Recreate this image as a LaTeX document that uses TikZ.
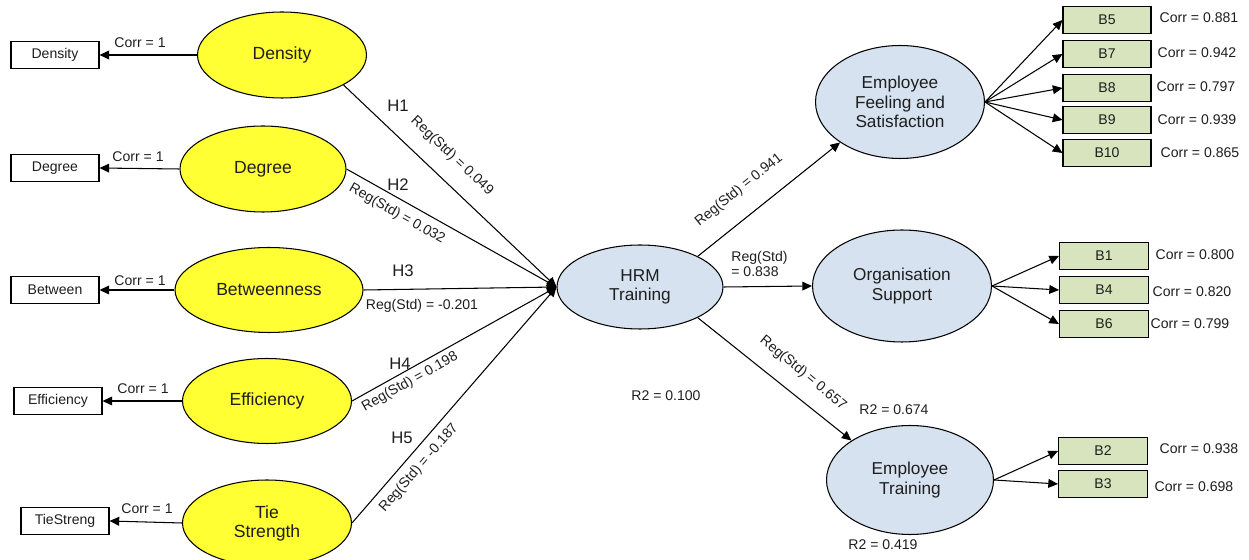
\documentclass[tikz,border=0pt]{standalone}
\usepackage{fontspec}
\setmainfont{Liberation Sans}
\usetikzlibrary{shapes.geometric,arrows.meta}
\definecolor{yel}{RGB}{255,255,51}
\definecolor{lblue}{RGB}{214,226,239}
\definecolor{lgreen}{RGB}{215,228,189}
\definecolor{txt}{RGB}{30,30,30}
\begin{document}
\begin{tikzpicture}[x=0.02cm,y=-0.02cm,
  lat/.style={ellipse,draw,line width=0.6pt,inner sep=0pt,align=center,text=txt,font=\fontsize{10}{10.8}\selectfont},
  yell/.style={lat,fill=yel},
  blu/.style={lat,fill=lblue,font=\fontsize{9.8}{11.2}\selectfont},
  obs/.style={draw,line width=0.6pt,minimum width=1.76cm,minimum height=0.53cm,inner sep=0pt,text=txt,font=\fontsize{8}{9.6}\selectfont},
  gobs/.style={obs,fill=lgreen,minimum width=1.78cm},
  lbl/.style={font=\fontsize{8}{9}\selectfont,inner sep=0pt,text=txt},
  hl/.style={font=\fontsize{9.5}{11}\selectfont,inner sep=0pt,text=txt},
  arr/.style={line width=0.6pt,-{Triangle[length=5.5pt,width=5pt]}},
]
\useasboundingbox (0,0) rectangle (1249,560);

% left latent variables
\node[yell,minimum width=3.38cm,minimum height=1.72cm] (dens) at (282,55) {Density};
\node[yell,minimum width=3.32cm,minimum height=1.72cm] (deg) at (263,169) {Degree};
\node[yell,minimum width=3.76cm,minimum height=1.70cm] (betw) at (269,290) {Betweenness};
\node[yell,minimum width=3.38cm,minimum height=1.70cm] (eff) at (267,401) {Efficiency};
\node[yell,minimum width=3.38cm,minimum height=1.72cm] (tie) at (267,523) {Tie\\Strength};

% left indicators
\node[obs] (bdens) at (55,55) {Density};
\node[obs] (bdeg) at (55,168) {Degree};
\node[obs] (bbetw) at (55,290) {Between};
\node[obs] (beff) at (58,401) {Efficiency};
\node[obs] (btie) at (65,521) {TieStreng};

\draw[arr] (dens.west) -- (bdens.east);
\draw[arr] (deg.west) -- (bdeg.east);
\draw[arr] (betw.west) -- (bbetw.east);
\draw[arr] (eff.west) -- (beff.east);
\draw[arr] (tie.west) -- (btie.east);

\node[lbl] at (140,43) {Corr = 1};
\node[lbl] at (138,157) {Corr = 1};
\node[lbl] at (140,281) {Corr = 1};
\node[lbl] at (143,389) {Corr = 1};
\node[lbl] at (147,509) {Corr = 1};

% central
\node[blu,minimum width=3.32cm,minimum height=1.68cm] (hrm) at (640,287) {HRM\\Training};

\draw[arr] (dens.-26) -- (hrm.west);
\draw[arr] (deg.east) -- (hrm.west);
\draw[arr] (betw.east) -- (hrm.west);
\draw[arr] (eff.east) -- (hrm.west);
\draw[arr] (tie.east) -- (hrm.west);

\node[hl] at (398,106) {H1};
\node[hl] at (398,185) {H2};
\node[hl] at (403,271) {H3};
\node[hl] at (400,364) {H4};
\node[hl] at (402,438) {H5};

\node[lbl,rotate=-43.3] at (452,156) {Reg(Std) = 0.049};
\node[lbl,rotate=-29.5] at (397,214) {Reg(Std) = 0.032};
\node[lbl] at (422,306) {Reg(Std) = -0.201};
\node[lbl,rotate=29.3] at (410,382) {Reg(Std) = 0.198};
\node[lbl,rotate=48.9] at (419,468) {Reg(Std) = -0.187};

\node[lbl] at (666,396) {R2 = 0.100};

% right latent variables
\node[blu,minimum width=3.38cm,minimum height=2.26cm] (efs) at (900,102) {Employee\\Feeling and\\Satisfaction};
\node[blu,minimum width=3.58cm,minimum height=2.24cm] (os) at (902,286) {Organisation\\Support};
\node[blu,minimum width=3.34cm,minimum height=2.18cm] (et) at (910,480) {Employee\\Training};

\draw[arr] (hrm.28) -- (efs.-146);
\draw[arr] (hrm.east) -- (os.west);
\draw[arr] (hrm.-28) -- (et.146);

\node[lbl,rotate=38.7] at (739,190) {Reg(Std) = 0.941};
\node[lbl,align=left,anchor=west,font=\fontsize{8}{9}\selectfont] at (731,264) {Reg(Std)\\= 0.838};
\node[lbl,rotate=-39.6] at (803,373) {Reg(Std) = 0.657};

\node[lbl] at (894,410) {R2 = 0.674};
\node[lbl] at (883,545) {R2 = 0.419};

% right indicators
\node[gobs,minimum width=1.76cm] (b5) at (1107,20) {B5};
\node[gobs,minimum width=1.76cm] (b7) at (1107,54) {B7};
\node[gobs,minimum width=1.76cm] (b8) at (1107,88) {B8};
\node[gobs,minimum width=1.76cm] (b9) at (1107,120) {B9};
\node[gobs,minimum width=1.76cm] (b10) at (1107,153) {B10};
\node[gobs] (b1) at (1104,256) {B1};
\node[gobs] (b4) at (1104,290) {B4};
\node[gobs] (b6) at (1104,324) {B6};
\node[gobs] (b2) at (1103,451) {B2};
\node[gobs] (b3) at (1103,484) {B3};

\foreach \b in {b5,b7,b8,b9,b10} \draw[arr] (efs.east) -- (\b.west);
\foreach \b in {b1,b4,b6} \draw[arr] (os.east) -- (\b.west);
\foreach \b in {b2,b3} \draw[arr] (et.east) -- (\b.west);

\node[lbl] at (1199,18) {Corr = 0.881};
\node[lbl] at (1197,53) {Corr = 0.942};
\node[lbl] at (1196,87) {Corr = 0.797};
\node[lbl] at (1197,120) {Corr = 0.939};
\node[lbl] at (1200,153) {Corr = 0.865};
\node[lbl] at (1195,255) {Corr = 0.800};
\node[lbl] at (1192,292) {Corr = 0.820};
\node[lbl] at (1190,324) {Corr = 0.799};
\node[lbl] at (1199,449) {Corr = 0.938};
\node[lbl] at (1194,487) {Corr = 0.698};
\end{tikzpicture}
\end{document}
